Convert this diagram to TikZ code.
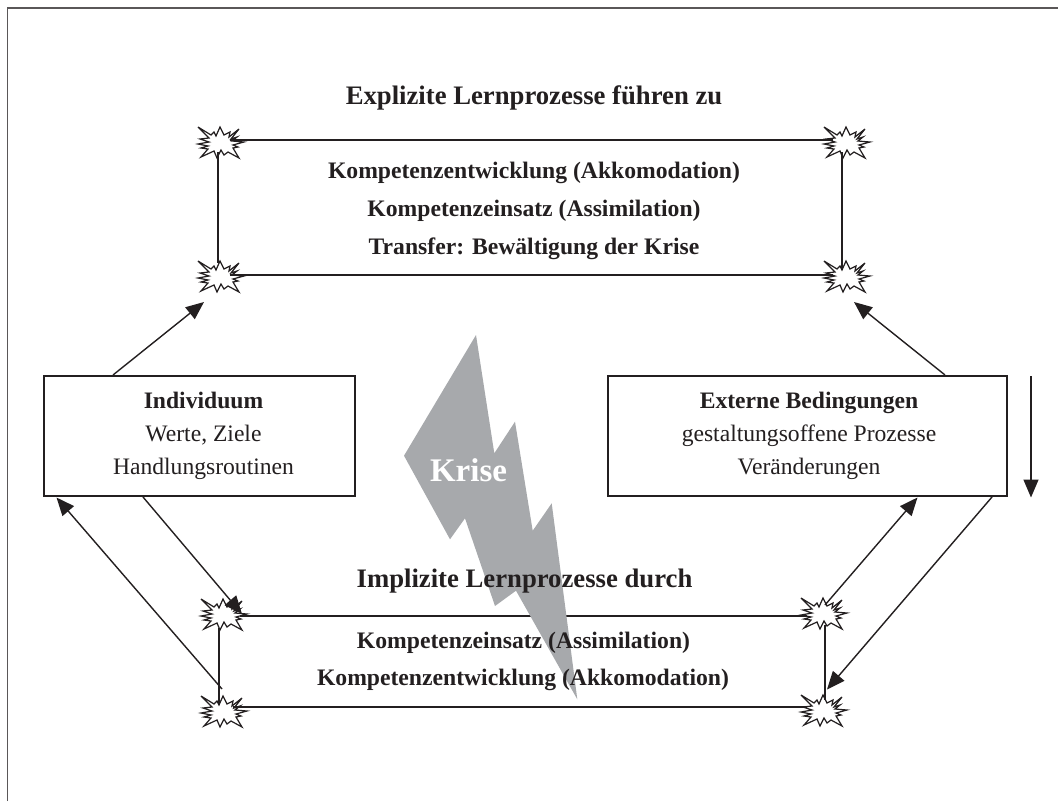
\documentclass[tikz,border=0pt]{standalone}
\usepackage{fontspec}
\setmainfont{Liberation Serif}
\usetikzlibrary{arrows.meta,calc}
\definecolor{ink}{HTML}{231F20}
\definecolor{bolt}{HTML}{A7A9AC}
\tikzset{
  x=1pt,y=-1pt,
  frameline/.style={draw=ink!75,line width=1.6pt},
  rule/.style={draw=ink,line width=2.3pt},
  arrowline/.style={draw=ink,line width=1.4pt,-{Triangle[length=18pt,width=15pt]}},
  boxnode/.style={draw=ink,line width=2.3pt,fill=white,minimum width=311pt,minimum height=120pt,inner sep=0pt},
  boxtext/.style={inner sep=0pt,align=center,font=\fontsize{23.6}{33}\selectfont,text=ink},
  headtext/.style={anchor=base,inner sep=0pt,text=ink,font=\fontsize{26.7}{30}\selectfont\bfseries},
  bodytext/.style={anchor=base,inner sep=0pt,text=ink,font=\fontsize{23.65}{30}\selectfont\bfseries},
  burstnode/.style={inner sep=0pt,minimum width=46pt,minimum height=32pt},
  burst/.pic={
    \path[draw=ink,line width=1.2pt,fill=white,line join=miter,miter limit=6]
      (-23,-16)--(-10,-8)--(-7,-11)--(-5,-7)--(-1,-16)--(3,-8)--(9,-11)--(8,-6)--(18,-14)--(10,-4)--(16,-6)--(11,-2)--(23,-1)--(12,2)--(17,4)--(12,5)--(18,15)--(7,9)--(3,12)--(0,7)--(-4,15)--(-7,8)--(-20,14)--(-13,6)--(-20,5)--(-13,3)--(-23,1)--(-12,-1)--(-21,-4)--(-12,-5)--cycle;
  },
}
\begin{document}
\begin{tikzpicture}
\useasboundingbox (0,0) rectangle (1058,801);
% outer frame
\coordinate (fbl) at (7.5,801);
\coordinate (ftl) at (7.5,8);
\coordinate (ftr) at (1058,8);
\draw[frameline] (fbl) -- (ftl) -- (ftr);
% bursts
\foreach \n/\px/\py in {b1/221/143,b2/847/143,b3/221/277,b4/847/277,b5/224/615,b6/824/614,b7/224/712,b8/824/711}{
  \node[burstnode] (\n) at (\px,\py) {};
  \pic at (\n.center) {burst};
}
% rectangle sides, running into the bursts
\draw[rule] ($(b1.center)+(9,-3)$) -- ($(b2.center)+(-14,-3)$);
\draw[rule] ($(b3.center)+(9,-2)$) -- ($(b4.center)+(-14,-2)$);
\draw[rule] ($(b1.center)+(-3,9)$) -- ($(b3.center)+(-3,-14)$);
\draw[rule] ($(b2.center)+(-5,9)$) -- ($(b4.center)+(-5,-9)$);
\draw[rule] ($(b5.center)+(16,1)$) -- ($(b6.center)+(-17,2)$);
\draw[rule] ($(b7.center)+(9,-5)$) -- ($(b8.center)+(-17,-4)$);
\draw[rule] ($(b5.center)+(-5,13)$) -- ($(b7.center)+(-5,-9)$);
\draw[rule] ($(b6.center)+(1,11)$) -- ($(b8.center)+(1,-11)$);
% lightning
\fill[bolt] (476,335)--(494.3,453.3)--(515,421.7)--(532.7,530.7)--(551.7,503.3)--(577.3,699.3)--(516,590.7)--(495,606)--(465,518.3)--(450,539.3)--(404,455.7)--cycle;
% boxes
\node[boxnode] (ind) at (199.5,436) {};
\node[boxnode,minimum width=399pt] (ext) at (807.5,436) {};
\node[boxtext] (indt) at (203.5,435.5) {\textbf{Individuum}\\Werte, Ziele\\Handlungsroutinen};
\node[boxtext] (extt) at (809,435.5) {\textbf{Externe Bedingungen}\\gestaltungsoffene Prozesse\\Veränderungen};
% texts
\node[headtext] (h1) at (534,104) {Explizite Lernprozesse führen zu};
\node[bodytext] (t1) at (534,178) {Kompetenzentwicklung (Akkomodation)};
\node[bodytext] (t2) at (534,216) {Kompetenzeinsatz (Assimilation)};
\node[bodytext] (t3) at (534,254) {Transfer: Bewältigung der Krise};
\node[headtext] (h2) at (524.5,587) {Implizite Lernprozesse durch};
\node[bodytext] (t4) at (523.5,648) {Kompetenzeinsatz (Assimilation)};
\node[bodytext] (t5) at (523,685) {Kompetenzentwicklung (Akkomodation)};
\node[anchor=base,inner sep=0pt,text=white,font=\fontsize{33}{36}\selectfont\bfseries] (kr) at (468.5,481) {Krise};
% arrows
\coordinate (a1s) at (113,375);  \coordinate (a1e) at (204,302);
\coordinate (a2s) at (945,375);  \coordinate (a2e) at (854,302);
\coordinate (a3s) at (143,497);  \coordinate (a3e) at (242,614);
\coordinate (a4s) at (222,689);  \coordinate (a4e) at (56.5,497.5);
\coordinate (a5s) at (825,605);  \coordinate (a5e) at (917.5,497.5);
\coordinate (a6s) at (992,497);  \coordinate (a6e) at (827,689.5);
\coordinate (a7s) at (1031,376); \coordinate (a7e) at (1031,497.5);
\foreach \s/\e in {a1s/a1e,a2s/a2e,a3s/a3e,a4s/a4e,a5s/a5e,a6s/a6e,a7s/a7e}
  \draw[arrowline] (\s) -- (\e);
\end{tikzpicture}
\end{document}
